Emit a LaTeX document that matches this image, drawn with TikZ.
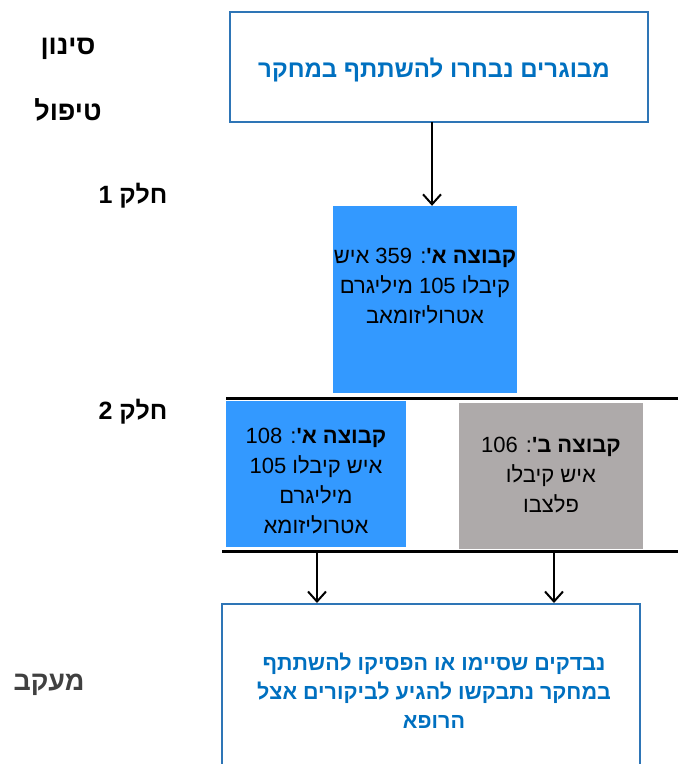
\documentclass[tikz,border=0pt]{standalone}
\usepackage{fontspec}
\setmainfont[Script=Hebrew]{Liberation Sans}
\newfontfamily\heb[Script=Hebrew]{Liberation Sans}
\TeXXeTstate=1
\usetikzlibrary{arrows.meta}

\definecolor{frameblue}{HTML}{2E75B6}
\definecolor{textblue}{HTML}{0070C0}
\definecolor{groupblue}{HTML}{3399FF}
\definecolor{placebo}{HTML}{AEAAAA}
\definecolor{darkgray}{HTML}{404040}

\tikzset{
  frame/.style={draw=frameblue, line width=2pt, fill=white},
  bluetext/.style={text=textblue, font=\heb\bfseries\fontsize{21.5}{29}\selectfont, align=center},
  grouptext/.style={text=black, font=\heb\fontsize{22}{30}\selectfont, align=center},
  phase/.style={font=\heb\bfseries\fontsize{27}{30}\selectfont},
  arr/.style={line width=2pt, -{Straight Barb[length=10pt,width=18pt,line width=2pt]}},
  rule/.style={line width=3pt},
}

\begin{document}
\begin{tikzpicture}[x=1pt,y=-1pt]
  \useasboundingbox (0,0) rectangle (678,764);
  \clip (0,0) rectangle (678,764);

  % phase labels on the left
  \node[phase] (screen) at (68,49) {\beginR סינון\endR};
  \node[phase] (treat) at (68,110) {\beginR טיפול\endR};
  \node[phase, font=\heb\bfseries\fontsize{25}{30}\selectfont] (part1) at (133,196) {\beginR חלק \beginL 1\endL\endR};
  \node[phase, font=\heb\bfseries\fontsize{25}{30}\selectfont] (part2) at (133,412) {\beginR חלק \beginL 2\endL\endR};
  \node[phase, text=darkgray] (follow) at (49,685) {\beginR מעקב\endR};

  % enrolment box
  \node[frame, minimum width=418pt, minimum height=110pt] (top) at (439,67) {};
  \node[bluetext, font=\heb\bfseries\fontsize{24}{29}\selectfont] (toptext) at (434,70) {\beginR מבוגרים נבחרו להשתתף במחקר\endR};

  % part 1 group
  \node[fill=groupblue, minimum width=184pt, minimum height=187pt, inner sep=0pt] (b1) at (425,299.5) {};
  \node[grouptext] (b1text) at (425,286)
    {\beginR\textbf{קבוצה א'}: \beginL 359\endL{} איש\endR\\
     \beginR קיבלו \beginL 105\endL{} מיליגרם\endR\\
     \beginR אטרוליזומאב\endR};

  \coordinate (a1) at (432,122);
  \draw[arr] (a1) -- (a1 |- b1.north);

  % part 2 band
  \coordinate (bandTL) at (226,398);
  \coordinate (bandTR) at (678,398);
  \coordinate (bandBL) at (222,551);
  \coordinate (bandBR) at (678,551);

  \node[fill=groupblue, minimum width=180pt, minimum height=146pt, inner sep=0pt] (ga) at (316,474) {};
  \node[fill=placebo, minimum width=184pt, minimum height=146pt, inner sep=0pt] (gb) at (551,476) {};

  \node[grouptext] (gatext) at (316,481)
    {\beginR\textbf{קבוצה א'}: \beginL 108\endL\endR\\
     \beginR איש קיבלו \beginL 105\endL\endR\\
     \beginR מיליגרם\endR\\
     \beginR אטרוליזומא\endR};
  \node[grouptext] (gbtext) at (551,475)
    {\beginR\textbf{קבוצה ב'}: \beginL 106\endL\endR\\
     \beginR איש קיבלו\endR\\
     \beginR פלצבו\endR};

  \draw[rule] (bandTL) -- (bandTR);
  \draw[rule] (bandBL) -- (bandBR);

  % follow-up box
  \node[frame, minimum width=418pt, minimum height=220pt, anchor=north] (fu) at (431,603) {};
  \node[bluetext] (futext) at (434,691)
    {\beginR נבדקים שסיימו או הפסיקו להשתתף\endR\\
     \beginR במחקר נתבקשו להגיע לביקורים אצל\endR\\
     \beginR הרופא\endR};

  \coordinate (s1) at (317,551);
  \coordinate (s2) at (554,551);
  \draw[arr] (s1) -- (s1 |- fu.north);
  \draw[arr] (s2) -- (s2 |- fu.north);
\end{tikzpicture}
\end{document}
